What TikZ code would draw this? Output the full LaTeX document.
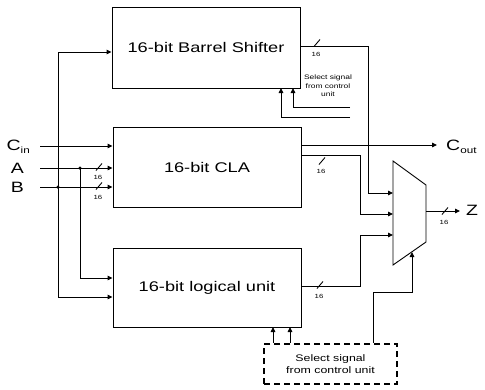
\documentclass[tikz,border=0pt]{standalone}
\usepackage{fontspec}
\setmainfont{Liberation Sans}[FakeStretch=1.3]
\usetikzlibrary{arrows.meta}
\tikzset{
  wire/.style={line width=0.9pt},
  arr/.style={wire,-{Triangle[length=5pt,width=4.5pt]}},
  blk/.style={draw,line width=0.9pt,font=\fontsize{14}{16}\selectfont},
  tiny/.style={font=\fontsize{6}{6}\selectfont,inner sep=0pt},
  sel/.style={font=\fontsize{6.5}{8.5}\selectfont,align=center,inner sep=0pt},
  lbl/.style={font=\fontsize{15}{16}\selectfont,inner sep=0pt},
  dot/.style={circle,fill,inner sep=0pt,minimum size=3.5pt},
}
\newcommand{\busmark}[3]{\draw[wire] (#1-3,#2+3.5) -- (#1+3,#2-3.5); \node[tiny] at (#1-1,#2+#3) {16};}
\begin{document}
\begin{tikzpicture}[x=1pt,y=-1pt]
\useasboundingbox (0,0) rectangle (485,389);
% blocks
\node[blk,minimum width=188pt,minimum height=81pt] (bs) at (206,47.5) {16-bit Barrel Shifter};
\node[blk,minimum width=188pt,minimum height=80pt] (cla) at (207,167) {16-bit CLA};
\node[blk,minimum width=188pt,minimum height=79pt] (lu) at (207,287.5) {16-bit logical unit};
\node[draw,line width=1.6pt,dash pattern=on 6pt off 4pt,minimum width=133pt,minimum height=40pt,
      font=\fontsize{9.5}{11.5}\selectfont,align=center] (ctl) at (330.5,364) {Select signal\\from control unit};
% mux
\coordinate (mxa) at (393,161);
\coordinate (mxb) at (426,185);
\coordinate (mxc) at (426,242);
\coordinate (mxd) at (393,265);
\draw[wire] (mxa) -- (mxb) -- (mxc) -- (mxd) -- cycle;
\coordinate (m1) at (393,193);
\coordinate (m2) at (393,214);
\coordinate (m3) at (393,235);
\coordinate (mo) at (426,211);
\coordinate (ms) at (412,252);
% inputs
\node[lbl,anchor=east] (cinl) at (30,147) {C\raisebox{-3.5pt}{\fontsize{9}{9}\selectfont in}};
\node[lbl] (al) at (17.5,168) {A};
\node[lbl] (bl) at (17.5,187) {B};
\coordinate (cins) at (40,146);
\coordinate (as) at (40,168);
\coordinate (bs0) at (40,187);
\draw[arr] (cins) -- (cins -| cla.west);
\draw[arr] (as) -- (as -| cla.west);
\draw[arr] (bs0) -- (bs0 -| cla.west);
\node[dot] (da) at (80,168) {};
\node[dot] (db) at (58,187) {};
\coordinate (bsin) at (58,52);
\coordinate (luin1) at (80,278);
\coordinate (luin2) at (58,297);
\draw[arr] (db.center) -- (bsin) -- (bsin -| bs.west);
\draw[arr] (db.center) -- (luin2) -- (luin2 -| lu.west);
\draw[arr] (da.center) -- (luin1) -- (luin1 -| lu.west);
\busmark{99}{167}{10}
\busmark{99}{186}{11}
% barrel shifter output
\coordinate (bso) at (300,46);
\draw[arr] (bso) -- (368,46) -- (368,193) -- (m1);
\busmark{317}{43}{11}
% select lines into barrel shifter
\coordinate (s1) at (350,107);
\coordinate (s2) at (350,117);
\draw[arr] (s1) -- (293,107) -- (293,88);
\draw[arr] (s2) -- (281,117) -- (281,88);
\node[sel] (bsel) at (328,86) {Select signal\\from control\\unit};
% CLA outputs
\coordinate (cout) at (437,145);
\draw[arr] (cout -| cla.east) -- (cout);
\node[lbl,anchor=west] (coutl) at (446,147) {C\raisebox{-3.5pt}{\fontsize{9}{9}\selectfont out}};
\coordinate (clao) at (301,155);
\draw[arr] (clao) -- (360,155) -- (360,214) -- (m2);
\busmark{322}{161}{10}
% logic output
\coordinate (luo) at (301,286);
\draw[arr] (luo) -- (360,286) -- (360,235) -- (m3);
\busmark{320}{285}{11}
% mux output
\coordinate (zo) at (460,211);
\draw[arr] (mo) -- (zo);
\node[lbl] (zl) at (472,210) {Z};
\busmark{445}{211}{11}
% control
\draw[arr] (ctl.north -| 373,0) -- (373,292) -- (412,292) -- (ms);
\draw[arr] (ctl.north -| 273,0) -- (273,327);
\draw[arr] (ctl.north -| 290,0) -- (290,327);
\end{tikzpicture}
\end{document}
